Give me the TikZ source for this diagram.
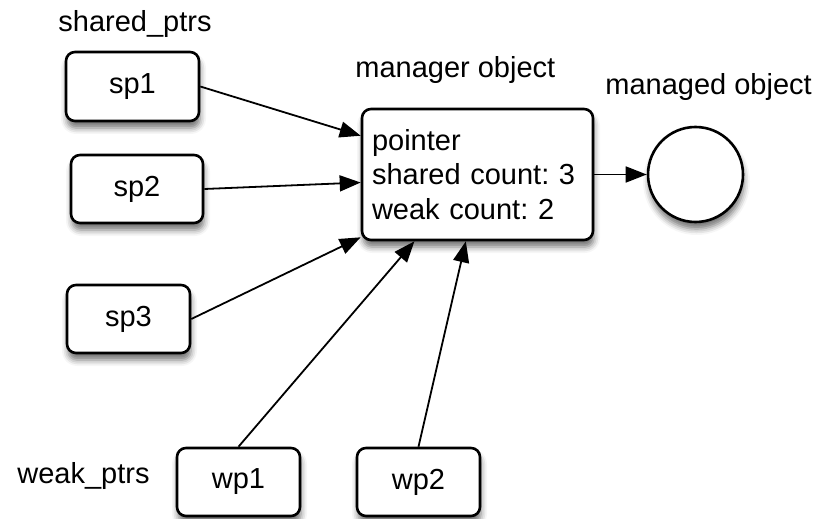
\documentclass[tikz,border=0pt]{standalone}
\usepackage{fontspec}
\setmainfont{Liberation Sans}
\usetikzlibrary{arrows.meta,calc,shadows.blur}
\frenchspacing
\begin{document}
\begin{tikzpicture}[x=0.5pt,y=-0.5pt,
  txt/.style={font=\fontsize{14.5}{17.25}\selectfont},
  box/.style={txt, draw, line width=1.3pt, rounded corners=4.5pt, fill=white, inner sep=0pt,
    blur shadow={shadow xshift=0.5pt, shadow yshift=-3.5pt, shadow blur radius=3pt, shadow opacity=55}},
  ptrbox/.style={box, minimum width=61.5pt, minimum height=34pt},
  lbl/.style={txt, inner sep=0pt, anchor=base west},
  arr/.style={line width=0.9pt, -{Triangle[length=10.5pt,width=8pt]}}]
\useasboundingbox (0,0) rectangle (817,518);
% labels
\node[lbl] (lsp) at (58,32) {shared\_ptrs};
\node[lbl] (lmgr) at (355,78) {manager object};
\node[lbl] (lobj) at (605,95) {managed object};
\node[lbl] (lwp) at (17,483) {weak\_ptrs};
% nodes
\node[ptrbox, minimum width=66.5pt, minimum height=34.5pt] (sp1) at (132.5,86.5) {sp1};
\node[ptrbox, minimum width=66pt] (sp2) at (137,189) {sp2};
\node[ptrbox] (sp3) at (128.5,319) {sp3};
\node[ptrbox] (wp1) at (238.5,482) {wp1};
\node[ptrbox] (wp2) at (418.5,482) {wp2};
\node[box, minimum width=115.5pt, minimum height=65.5pt, align=left, text width=105.5pt] (mgr) at (477.5,174.5)
  {pointer\\shared count: 3\\weak count: 2};
\node[draw, circle, line width=1.3pt, fill=white, inner sep=0pt, minimum size=47.5pt,
    blur shadow={shadow xshift=0.5pt, shadow yshift=-3.5pt, shadow blur radius=3pt, shadow opacity=55}] (obj) at (695.5,174.5) {};
% connectors
\draw[arr] (sp1.east) -- ($(mgr.north west)!0.21!(mgr.south west)$);
\draw[arr] (sp2.east) -- ($(mgr.north west)!0.56!(mgr.south west)$);
\draw[arr] (sp3.east) -- ($(mgr.north west)!0.97!(mgr.south west)$);
\draw[arr] (wp1.north) -- ($(mgr.south west)!0.23!(mgr.south east)$);
\draw[arr] (wp2.north) -- ($(mgr.south west)!0.45!(mgr.south east)$);
\draw[arr] (mgr.east) -- (obj.west);
\end{tikzpicture}
\end{document}
